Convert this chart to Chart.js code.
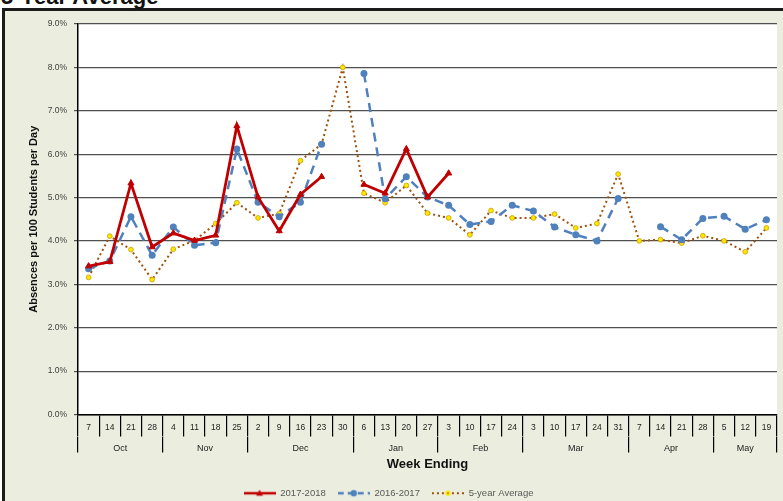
<!DOCTYPE html>
<html>
<head>
<meta charset="utf-8">
<script src="https://cdn.jsdelivr.net/npm/chart.js@4"></script>
<style>
body{margin:0;width:783px;height:501px;overflow:hidden;position:relative;background:#fff;font-family:"Liberation Sans",Arial,sans-serif}
#marco{position:absolute;left:2px;top:8px;width:820px;height:540px;border:3px solid #1a1a1a;background:#EBEEDF}
#titulo{position:absolute;left:1px;top:-13px;margin:0;font:bold 22px "Liberation Sans",Arial,sans-serif;line-height:20px;color:#111}
#caja{position:absolute;left:0;top:0;width:783px;height:501px}
</style>
</head>
<body>
<div id="marco"></div>
<h1 id="titulo">5-Year Average</h1>
<div id="caja"><canvas id="grafica" width="783" height="501"></canvas></div>
<script>
// Semanas (día de fin de semana) y meses del eje X
var semanas = ['7','14','21','28','4','11','18','25','2','9','16','23','30','6','13','20','27','3','10','17','24','3','10','17','24','31','7','14','21','28','5','12','19'];
var meses = ['Oct','Nov','Dec','Jan','Feb','Mar','Apr','May'];
var semanasPorMes = [4, 4, 5, 4, 4, 5, 4, 3];

// Ausencias por 100 alumnos por día (%)
var curso1718 = [3.42, 3.52, 5.33, 3.86, 4.18, 4.01, 4.13, 6.65, 5.01, 4.23, 5.07, 5.48, null, 5.30, 5.10, 6.12, 5.01, 5.56,
    null, null, null, null, null, null, null, null, null, null, null, null, null, null, null];
var curso1617 = [3.36, 3.54, 4.56, 3.67, 4.32, 3.90, 3.96, 6.12, 4.89, 4.56, 4.89, 6.23, null, 7.86, 4.97, 5.48, 5.01,
    4.82, 4.38, 4.45, 4.82, 4.69, 4.32, 4.14, 4.00, 4.98, null, 4.33, 4.03, 4.52, 4.57, 4.27, 4.49];
var promedio5 = [3.16, 4.11, 3.80, 3.11, 3.81, 4.01, 4.40, 4.88, 4.53, 4.63, 5.85, 6.23, 8.00, 5.10, 4.88, 5.28, 4.64,
    4.53, 4.14, 4.70, 4.53, 4.53, 4.62, 4.30, 4.40, 5.54, 4.00, 4.03, 3.95, 4.12, 4.00, 3.75, 4.30];

var ticksY = [0, 1, 2, 3, 4, 5, 6, 7, 8, 9];

// Límites y centros de cada mes (en índices de semana)
var limitesMes = [-0.5];
var etiquetaMes = {};
var acumulado = -0.5;
for (var i = 0; i < meses.length; i++) {
    etiquetaMes[acumulado + semanasPorMes[i] / 2] = meses[i];
    acumulado += semanasPorMes[i];
    limitesMes.push(acumulado);
}
var marcasMes = limitesMes.concat(Object.keys(etiquetaMes).map(Number)).sort(function (a, b) { return a - b; });

// Muestras de la leyenda (línea + marcador)
function muestraLeyenda(tipo) {
    var c = document.createElement('canvas');
    c.width = 32; c.height = 10;
    var g = c.getContext('2d');
    g.beginPath();
    if (tipo === 'rojo') { g.strokeStyle = '#C00000'; g.lineWidth = 2.5; }
    if (tipo === 'azul') { g.strokeStyle = '#4F81BD'; g.lineWidth = 2.5; g.setLineDash([6, 4]); }
    if (tipo === 'prom') { g.strokeStyle = '#A0500A'; g.lineWidth = 2; g.setLineDash([2, 3]); }
    g.moveTo(0, 5); g.lineTo(32, 5); g.stroke();
    g.setLineDash([]);
    g.beginPath();
    if (tipo === 'rojo') { g.fillStyle = '#C00000'; g.moveTo(16, 1.5); g.lineTo(19.5, 7.5); g.lineTo(12.5, 7.5); g.closePath(); g.fill(); }
    if (tipo === 'azul') { g.fillStyle = '#4F81BD'; g.arc(16, 5, 3.2, 0, Math.PI * 2); g.fill(); }
    if (tipo === 'prom') { g.fillStyle = '#FFE800'; g.arc(16, 5, 2.7, 0, Math.PI * 2); g.fill(); g.fillStyle = '#A0500A'; g.fillRect(15.3, 4.3, 1.4, 1.4); }
    return c;
}
var muestras = [muestraLeyenda('rojo'), muestraLeyenda('azul'), muestraLeyenda('prom')];

// Fondo blanco del área de trazado
var fondoBlanco = {
    id: 'fondoBlanco',
    beforeDraw: function (chart) {
        var a = chart.chartArea, c = chart.ctx;
        c.save();
        c.fillStyle = '#ffffff';
        c.fillRect(a.left, a.top, a.right - a.left, a.bottom - a.top);
        c.restore();
    }
};

var datos = {
    labels: semanas,
    datasets: [{
        label: '2017-2018',
        data: curso1718,
        borderColor: '#C00000',
        backgroundColor: '#C00000',
        borderWidth: 2.8,
        pointStyle: 'triangle',
        pointRadius: 3.5,
        pointBorderWidth: 1,
        xAxisID: 'x'
    }, {
        label: '2016-2017',
        data: curso1617,
        borderColor: '#4F81BD',
        backgroundColor: '#4F81BD',
        borderWidth: 2.5,
        borderDash: [9, 6],
        pointStyle: 'circle',
        pointRadius: 3.5,
        pointBorderWidth: 0,
        xAxisID: 'x'
    }, {
        label: '5-year Average',
        data: promedio5,
        borderColor: '#A0500A',
        backgroundColor: '#FFE800',
        borderWidth: 2,
        borderDash: [2, 3],
        pointStyle: 'circle',
        pointRadius: 2.4,
        pointBorderColor: '#C8A000',
        pointBorderWidth: 0.8,
        xAxisID: 'x'
    }]
};

var opciones = {
    responsive: false,
    animation: false,
    layout: { padding: { top: 24, right: 6, left: 0, bottom: -7 } },
    plugins: {
        tooltip: { enabled: false },
        legend: {
            position: 'bottom',
            labels: {
                usePointStyle: true,
                pointStyleWidth: 32,
                boxHeight: 8,
                padding: 12,
                color: '#595959',
                font: { size: 9.5, family: '"Liberation Sans", Arial, sans-serif' },
                generateLabels: function (chart) {
                    var items = Chart.defaults.plugins.legend.labels.generateLabels(chart);
                    items.forEach(function (it, k) { it.pointStyle = muestras[k]; });
                    return items;
                }
            }
        }
    },
    scales: {
        x: {
            type: 'category',
            position: 'bottom',
            offset: true,
            grid: { offset: true, drawOnChartArea: false, color: '#000', lineWidth: 1.2, tickLength: 22 },
            border: { color: '#000', width: 1.5 },
            ticks: { autoSkip: false, maxRotation: 0, padding: -14, color: '#222', font: { size: 8.5, family: '"Liberation Sans", Arial, sans-serif' } },
            afterFit: function (s) { s.height = 22; }
        },
        x2: {
            type: 'linear',
            axis: 'x',
            position: 'bottom',
            min: -0.5,
            max: 32.5,
            afterBuildTicks: function (s) {
                s.ticks = marcasMes.map(function (v) { return { value: v }; });
            },
            grid: {
                drawOnChartArea: false,
                tickLength: 16,
                lineWidth: 1.2,
                color: function (ctx) {
                    return ctx.tick && limitesMes.indexOf(ctx.tick.value) >= 0 ? '#000' : 'rgba(0,0,0,0)';
                }
            },
            border: { display: false },
            ticks: {
                autoSkip: false,
                maxRotation: 0,
                padding: -9,
                color: '#222',
                font: { size: 9, family: '"Liberation Sans", Arial, sans-serif' },
                callback: function (v) { return etiquetaMes[v] || ''; }
            },
            title: { display: true, text: 'Week Ending', color: '#111', padding: 4, font: { size: 13, weight: 'bold', family: '"Liberation Sans", Arial, sans-serif' } },
            afterFit: function (s) { s.height = 40; }
        },
        y: {
            min: 0,
            max: 9,
            afterBuildTicks: function (s) {
                s.ticks = ticksY.map(function (v) { return { value: v }; });
            },
            grid: { color: '#505050', lineWidth: 1.2, tickLength: 4 },
            border: { color: '#000', width: 1.5 },
            ticks: {
                padding: 7,
                color: '#404040',
                font: { size: 8.5, family: '"Liberation Sans", Arial, sans-serif' },
                callback: function (v) { return v.toFixed(1) + '%'; }
            },
            title: { display: true, text: 'Absences per 100 Students per Day', color: '#111', padding: 27, font: { size: 11, weight: 'bold', family: '"Liberation Sans", Arial, sans-serif' } },
            afterFit: function (s) { s.width = 78; }
        }
    }
};

var ctx = document.getElementById('grafica').getContext('2d');
var grafica = new Chart(ctx, {
    type: 'line',
    data: datos,
    options: opciones,
    plugins: [fondoBlanco]
});
</script>
</body>
</html>
